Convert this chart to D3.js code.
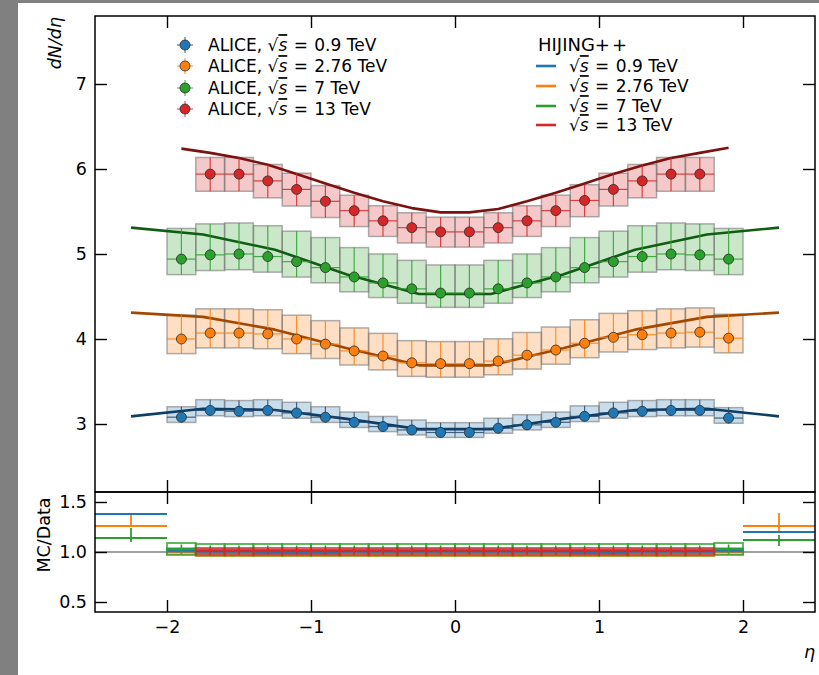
<!DOCTYPE html>
<html>
<head>
<meta charset="utf-8">
<script src="https://cdn.jsdelivr.net/npm/d3@7"></script>
<style>
  body { margin: 0; background: #fff; }
  svg { display: block; font-family: "DejaVu Sans", sans-serif; }
</style>
</head>
<body>
<svg id="chart" width="819" height="675"></svg>
<script>
// ---- pseudorapidity bins ----
const etaData   = [-1.9,-1.7,-1.5,-1.3,-1.1,-0.9,-0.7,-0.5,-0.3,-0.1,0.1,0.3,0.5,0.7,0.9,1.1,1.3,1.5,1.7,1.9];
const etaData13 = [-1.7,-1.5,-1.3,-1.1,-0.9,-0.7,-0.5,-0.3,-0.1,0.1,0.3,0.5,0.7,0.9,1.1,1.3,1.5,1.7];
const binHalfWidth = 0.1;

// ---- ALICE dN/deta measurements ----
const alice09  = [3.08,3.16,3.15,3.16,3.13,3.08,3.02,2.97,2.93,2.90,2.90,2.95,2.99,3.02,3.09,3.13,3.15,3.16,3.16,3.07];
const alice276 = [4.00,4.07,4.07,4.06,4.00,3.94,3.86,3.80,3.72,3.71,3.71,3.74,3.81,3.87,3.95,4.02,4.05,4.07,4.08,4.01];
const alice7   = [4.94,4.99,5.00,4.97,4.91,4.84,4.73,4.66,4.59,4.54,4.54,4.59,4.66,4.73,4.84,4.91,4.97,5.00,4.99,4.94];
const alice13  = [5.94,5.94,5.86,5.76,5.62,5.51,5.39,5.31,5.26,5.26,5.31,5.39,5.51,5.63,5.76,5.86,5.94,5.94];

// relative systematic uncertainty (upper, lower) per energy
const sysUp   = [0.040, 0.070, 0.073, 0.033];
const sysDown = [0.020, 0.043, 0.037, 0.034];

// ---- HIJING++ predictions ----
const etaMC   = [-2.25,-1.75,-1.25,-0.75,-0.25,0.25,0.75,1.25,1.75,2.25];
const etaMC13 = [-1.9,-1.7,-1.5,-1.3,-1.1,-0.9,-0.7,-0.5,-0.3,-0.1,0.1,0.3,0.5,0.7,0.9,1.1,1.3,1.5,1.7,1.9];
const hijing09  = [3.09,3.18,3.165,3.06,2.94,2.94,3.06,3.165,3.18,3.09];
const hijing276 = [4.31,4.26,4.11,3.89,3.69,3.69,3.89,4.11,4.26,4.31];
const hijing7   = [5.31,5.23,5.05,4.76,4.53,4.53,4.76,5.05,5.23,5.31];
const hijing13  = [6.24,6.19,6.13,6.05,5.94,5.83,5.72,5.62,5.54,5.49,5.49,5.53,5.62,5.72,5.83,5.94,6.04,6.13,6.19,6.25];

// ---- MC/Data ratio inside the measured range ----
const ratio09  = [1.02,1.01,1.01,1.00,1.00,1.00,1.01,1.01,1.01,1.01,1.01,1.01,1.01,1.01,1.00,1.00,1.01,1.01,1.01,1.02];
const ratio276 = [1.00,0.99,0.99,0.99,0.99,0.99,0.99,0.99,0.99,0.99,0.99,0.99,0.99,0.99,0.99,0.99,0.99,0.99,0.99,1.00];
const ratio7   = [1.03,1.02,1.02,1.02,1.02,1.02,1.02,1.02,1.02,1.02,1.02,1.02,1.02,1.02,1.02,1.02,1.02,1.02,1.02,1.03];
const ratio13  = [1.01,1.01,1.01,1.01,1.01,1.01,1.01,1.01,1.01,1.01,1.01,1.01,1.01,1.01,1.01,1.01,1.01,1.01];
const ratioBandUp   = [0.015, 0.025, 0.060, 0.030];
const ratioBandDown = [0.015, 0.030, 0.055, 0.035];
const ratioStat     = [0.010, 0.020, 0.045, 0.030];

// ---- MC/Data ratio in the forward bins (|eta| > 2) ----
const outerEta      = [-2.25, 2.25];
const outerHalfWidth = 0.25;
const outer09  = [1.38, 1.20];
const outer276 = [1.26, 1.26];
const outer7   = [1.14, 1.12];
const outerLo09  = [1.38, 1.20], outerHi09  = [1.38, 1.21];
const outerLo276 = [1.26, 1.20], outerHi276 = [1.37, 1.39];
const outerLo7   = [1.10, 1.06], outerHi7   = [1.24, 1.17];

// ---- axis ticks ----
const xTicks = [-2,-1,0,1,2];
const yTicks = [3,4,5,6,7];
const rTicks = [0.5,1.0,1.5];

const energies = ["0.9","2.76","7","13"];
const colors   = ["#1f77b4","#ff7f0e","#2ca02c","#d62728"];
const mcColors = ["#0e3d66","#a34800","#0f5e12","#7a1212"];
const barColors = ["#2a4a6c","#ff7f0e","#2ca02c","#d62728"];

const series = [
  {eta: etaData,   val: alice09,  mcEta: etaMC,   mc: hijing09,  r: ratio09,  oy: outer09,  olo: outerLo09,  ohi: outerHi09},
  {eta: etaData,   val: alice276, mcEta: etaMC,   mc: hijing276, r: ratio276, oy: outer276, olo: outerLo276, ohi: outerHi276},
  {eta: etaData,   val: alice7,   mcEta: etaMC,   mc: hijing7,   r: ratio7,   oy: outer7,   olo: outerLo7,   ohi: outerHi7},
  {eta: etaData13, val: alice13,  mcEta: etaMC13, mc: hijing13,  r: ratio13,  oy: null}
].map((s, i) => Object.assign(s, {i, color: colors[i], dark: mcColors[i], bar: barColors[i], e: energies[i]}));

// ---- layout ----
const L = 95, R = 815, T = 16, MB = 492, RB = 612;
const x  = d3.scaleLinear([-2.5, 2.5], [L, R]);
const y  = d3.scaleLinear([2.2, 7.8], [MB, T]);
const yr = d3.scaleLinear([0.4, 1.6], [RB, MB]);

const svg = d3.select("#chart");
const FS = 17.5;

// page frame
svg.append("rect").attr("x",0).attr("y",0).attr("width",819).attr("height",675).attr("fill","#fff");
svg.append("rect").attr("x",0).attr("y",0).attr("width",819).attr("height",3).attr("fill","#808080");
svg.append("rect").attr("x",0).attr("y",0).attr("width",18).attr("height",675).attr("fill","#808080");

const defs = svg.append("defs");
defs.append("clipPath").attr("id","clipMain").append("rect")
  .attr("x",L).attr("y",T).attr("width",R-L).attr("height",MB-T);
defs.append("clipPath").attr("id","clipRatio").append("rect")
  .attr("x",L).attr("y",MB).attr("width",R-L).attr("height",RB-MB);

// ---------------- main panel ----------------
const main = svg.append("g").attr("clip-path","url(#clipMain)");

// systematic boxes
series.forEach(s => {
  main.append("g").selectAll("rect").data(s.val).join("rect")
    .attr("x", (v,k) => x(s.eta[k]-binHalfWidth))
    .attr("width", (v,k) => x(s.eta[k]+binHalfWidth) - x(s.eta[k]-binHalfWidth))
    .attr("y", v => y(v*(1+sysUp[s.i])))
    .attr("height", v => y(v*(1-sysDown[s.i])) - y(v*(1+sysUp[s.i])))
    .attr("fill", s.color).attr("fill-opacity", 0.25)
    .attr("stroke", "#7a7a7a").attr("stroke-opacity", 0.6).attr("stroke-width", 1.5);
});

// HIJING++ curves
const line = d3.line().x(d => x(d[0])).y(d => y(d[1]));
series.forEach(s => {
  main.append("path").datum(d3.zip(s.mcEta, s.mc)).attr("d", line)
    .attr("fill","none").attr("stroke", s.dark).attr("stroke-width", 2.6)
    .attr("stroke-linejoin","round");
});

// error bars and markers
series.forEach(s => {
  const g = main.append("g");
  g.selectAll("line.h").data(s.val).join("line").attr("class","h")
    .attr("x1",(v,k)=>x(s.eta[k]-binHalfWidth)).attr("x2",(v,k)=>x(s.eta[k]+binHalfWidth))
    .attr("y1",v=>y(v)).attr("y2",v=>y(v))
    .attr("stroke", s.bar).attr("stroke-width",1.2).attr("stroke-opacity",0.85);
  g.selectAll("line.v").data(s.val).join("line").attr("class","v")
    .attr("x1",(v,k)=>x(s.eta[k])).attr("x2",(v,k)=>x(s.eta[k]))
    .attr("y1",v=>y(v*(1+sysUp[s.i]))).attr("y2",v=>y(v*(1-sysDown[s.i])))
    .attr("stroke", s.bar).attr("stroke-width",1.2).attr("stroke-opacity",0.85);
  g.selectAll("circle").data(s.val).join("circle")
    .attr("cx",(v,k)=>x(s.eta[k])).attr("cy",v=>y(v)).attr("r",5)
    .attr("fill", s.color).attr("stroke","#2b2b2b").attr("stroke-width",0.8);
});

// ---------------- ratio panel ----------------
const rat = svg.append("g").attr("clip-path","url(#clipRatio)");
rat.append("line").attr("x1",L).attr("x2",R).attr("y1",yr(1)).attr("y2",yr(1))
  .attr("stroke","#808080").attr("stroke-width",1.6);

[1,0,2,3].forEach(idx => {
  const s = series[idx];
  const g = rat.append("g");
  g.selectAll("rect").data(s.r).join("rect")
    .attr("x",(v,k)=>x(s.eta[k]-binHalfWidth))
    .attr("width",(v,k)=>x(s.eta[k]+binHalfWidth)-x(s.eta[k]-binHalfWidth))
    .attr("y",v=>yr(v+ratioBandUp[idx]))
    .attr("height",v=>yr(v-ratioBandDown[idx])-yr(v+ratioBandUp[idx]))
    .attr("fill", idx===0 ? s.color : "none").attr("fill-opacity", 0.5)
    .attr("stroke", s.color).attr("stroke-opacity",0.75).attr("stroke-width",2);
  g.selectAll("line.h").data(s.r).join("line").attr("class","h")
    .attr("x1",(v,k)=>x(s.eta[k]-binHalfWidth)).attr("x2",(v,k)=>x(s.eta[k]+binHalfWidth))
    .attr("y1",v=>yr(v)).attr("y2",v=>yr(v))
    .attr("stroke", s.color).attr("stroke-width",2.2);
  g.selectAll("line.v").data(s.r).join("line").attr("class","v")
    .attr("x1",(v,k)=>x(s.eta[k])).attr("x2",(v,k)=>x(s.eta[k]))
    .attr("y1",v=>yr(v+ratioStat[idx])).attr("y2",v=>yr(v-ratioStat[idx]))
    .attr("stroke", s.color).attr("stroke-width",1.6);
});

// forward bins
[2,1,0].forEach(idx => {
  const s = series[idx];
  const g = rat.append("g");
  g.selectAll("line.h").data(s.oy).join("line").attr("class","h")
    .attr("x1",(v,k)=>x(outerEta[k]-outerHalfWidth)).attr("x2",(v,k)=>x(outerEta[k]+outerHalfWidth))
    .attr("y1",v=>yr(v)).attr("y2",v=>yr(v))
    .attr("stroke", s.color).attr("stroke-width",2);
  g.selectAll("line.v").data(s.oy).join("line").attr("class","v")
    .attr("x1",(v,k)=>x(outerEta[k])).attr("x2",(v,k)=>x(outerEta[k]))
    .attr("y1",(v,k)=>yr(s.ohi[k])).attr("y2",(v,k)=>yr(s.olo[k]))
    .attr("stroke", s.color).attr("stroke-width",1.8);
});

// ---------------- axes ----------------
function styleAxis(g, labels) {
  g.select(".domain").remove();
  g.selectAll(".tick line").attr("stroke","#000").attr("stroke-width",1.4);
  g.selectAll(".tick text").attr("fill","#000")
    .attr("font-size", FS).attr("font-family","DejaVu Sans, sans-serif");
  if (!labels) g.selectAll(".tick text").remove();
}
const tk = 12;
// main panel
styleAxis(svg.append("g").attr("transform",`translate(0,${T})`)
  .call(d3.axisTop(x).tickValues(xTicks).tickSizeInner(-tk).tickSizeOuter(0)), false);
styleAxis(svg.append("g").attr("transform",`translate(0,${MB})`)
  .call(d3.axisBottom(x).tickValues(xTicks).tickSizeInner(-tk).tickSizeOuter(0)), false);
styleAxis(svg.append("g").attr("transform",`translate(${L},0)`)
  .call(d3.axisLeft(y).tickValues(yTicks).tickSizeInner(-tk).tickSizeOuter(0).tickPadding(8).tickFormat(d3.format("d"))), true);
styleAxis(svg.append("g").attr("transform",`translate(${R},0)`)
  .call(d3.axisRight(y).tickValues(yTicks).tickSizeInner(-tk).tickSizeOuter(0)), false);
// ratio panel
styleAxis(svg.append("g").attr("transform",`translate(0,${MB})`)
  .call(d3.axisTop(x).tickValues(xTicks).tickSizeInner(-tk).tickSizeOuter(0)), false);
styleAxis(svg.append("g").attr("transform",`translate(0,${RB})`)
  .call(d3.axisBottom(x).tickValues(xTicks).tickSizeInner(-tk).tickSizeOuter(0).tickPadding(9).tickFormat(d3.format("d"))), true);
styleAxis(svg.append("g").attr("transform",`translate(${L},0)`)
  .call(d3.axisLeft(yr).tickValues(rTicks).tickSizeInner(-tk).tickSizeOuter(0).tickPadding(8).tickFormat(d3.format(".1f"))), true);
styleAxis(svg.append("g").attr("transform",`translate(${R},0)`)
  .call(d3.axisRight(yr).tickValues(rTicks).tickSizeInner(-tk).tickSizeOuter(0)), false);

// panel frames
[[T, MB], [MB, RB]].forEach(([t, b]) => {
  svg.append("rect").attr("x",L).attr("y",t).attr("width",R-L).attr("height",b-t)
    .attr("fill","none").attr("stroke","#000").attr("stroke-width",1.5);
});

// axis titles
svg.append("text").attr("transform",`translate(61,${T+1}) rotate(-90)`)
  .attr("text-anchor","end").attr("font-size",FS).attr("font-style","italic").text("dN/dη");
svg.append("text").attr("transform",`translate(50,535) rotate(-90)`)
  .attr("text-anchor","middle").attr("font-size",FS).text("MC/Data");
svg.append("text").attr("x",R).attr("y",658)
  .attr("text-anchor","end").attr("font-size",FS).attr("font-style","italic").text("η");

// ---------------- legends ----------------
function energyLabel(g, xPos, yPos, prefix, e) {
  const t = g.append("text").attr("x",xPos).attr("y",yPos).attr("dy","0.36em")
    .attr("font-size",17).attr("fill","#000");
  t.append("tspan").text(prefix + "√");
  t.append("tspan").attr("font-style","italic").style("text-decoration","overline").text("s");
  t.append("tspan").attr("dx",1).text(" = ");
  t.append("tspan").attr("dx",1).text(e + " TeV");
}

const leg1 = svg.append("g");
const rows1 = [45, 66, 88, 109];
series.forEach((s, k) => {
  const cy = rows1[k], cx = 185;
  leg1.append("line").attr("x1",cx-8).attr("x2",cx+8).attr("y1",cy).attr("y2",cy)
    .attr("stroke", s.bar).attr("stroke-width",1.3).attr("stroke-opacity",0.7);
  leg1.append("line").attr("x1",cx).attr("x2",cx).attr("y1",cy-8).attr("y2",cy+8)
    .attr("stroke", s.bar).attr("stroke-width",1.3).attr("stroke-opacity",0.7);
  leg1.append("circle").attr("cx",cx).attr("cy",cy).attr("r",5)
    .attr("fill", s.color).attr("stroke","#2b2b2b").attr("stroke-width",0.8);
  energyLabel(leg1, 208, cy, "ALICE, ", s.e);
});

const leg2 = svg.append("g");
const title2 = leg2.append("text").attr("x",538).attr("y",45).attr("dy","0.36em").attr("font-size",18);
title2.append("tspan").text("HIJING+");
title2.append("tspan").attr("dx",2).text("+");
const rows2 = [66, 86, 106, 125];
series.forEach((s, k) => {
  const cy = rows2[k];
  leg2.append("line").attr("x1",536).attr("x2",556).attr("y1",cy).attr("y2",cy)
    .attr("stroke", s.color).attr("stroke-width",2.6);
  energyLabel(leg2, 569, cy, "", s.e);
});
</script>
</body>
</html>
